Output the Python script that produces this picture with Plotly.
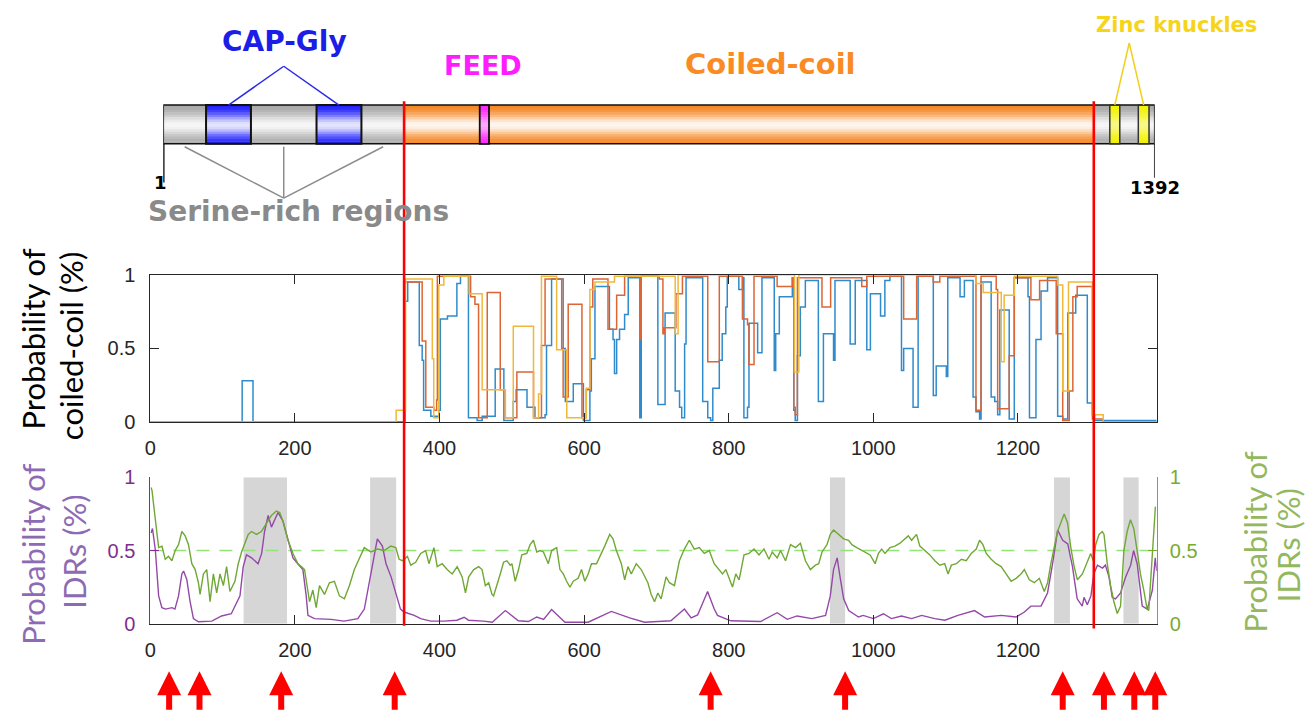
import numpy as np
import plotly.graph_objects as go

W, H = 1310, 721

# ------------------------------------------------------------------ data
PROTEIN_LENGTH = 1392
SERINE_RICH = [(1, 61), (124, 216), (279, 340)]
CAP_GLY = [(61, 124), (216, 279)]
COILED_COIL = (340, 1308)
FEED = (445, 458)
ZINC_KNUCKLES = [(1329, 1343), (1369, 1384)]

CC_BOUNDARIES = [351, 1305]          # red lines (plot coordinates)

X_TICKS = [0, 200, 400, 600, 800, 1000, 1200]
Y_TICKS = [0, 0.5, 1]
Y_TICK_TEXT = ["0", "0.5", "1"]

# coiled-coil probability, three window sizes (step functions: residue, value)
CC_BLUE = [(0, 0), (127, 0.28), (142, 0), (352, 0.82), (356, 0.95), (372, 0.52), (376, 0.42),
           (378, 0.08), (388, 0.04), (399, 0.08), (401, 0.70), (411, 0.72), (424, 0.94), (429, 0.99),
           (440, 0.03), (452, 0.01), (459, 0.04), (477, 0.36), (489, 0.01), (502, 0.14), (506, 0.22),
           (521, 0.10), (532, 0.03), (546, 0.05), (548, 0.52), (555, 0.97), (571, 0.50), (574, 0.14),
           (585, 0.26), (599, 0.01), (608, 0.21), (610, 0.43), (615, 0.92), (635, 0.63), (640, 0.56),
           (642, 0.33), (645, 0.56), (649, 0.63), (656, 0.73), (661, 0.98), (677, 0.03), (679, 0.99),
           (702, 0.12), (712, 0.74), (726, 0.21), (732, 0.10), (735, 0.03), (739, 0.53), (741, 0.98),
           (764, 0.14), (771, 0.03), (775, 0.01), (778, 0.23), (787, 0.42), (791, 0.60), (796, 0.78),
           (798, 0.99), (814, 0.90), (819, 0.98), (821, 0.03), (826, 0.10), (828, 0.67), (840, 0.47),
           (846, 0.98), (863, 0.35), (865, 0.60), (870, 0.85), (888, 0.98), (890, 0.08), (892, 0.01),
           (895, 0.45), (899, 0.78), (906, 0.96), (924, 0.14), (931, 0.60), (945, 0.42), (947, 0.96),
           (968, 0.53), (975, 0.96), (991, 0.49), (996, 0.87), (1010, 0.72), (1016, 0.96), (1023, 0.99),
           (1039, 0.35), (1042, 0.50), (1055, 0.10), (1062, 0.99), (1083, 0.18), (1087, 0.38),
           (1101, 0.31), (1103, 0.98), (1120, 0.85), (1126, 0.96), (1138, 0.17), (1142, 0.07),
           (1147, 0.02), (1149, 0.95), (1163, 0.17), (1168, 0.14), (1172, 0.05), (1175, 0.76),
           (1188, 0.02), (1195, 0.98), (1214, 0.85), (1216, 0.03), (1225, 0.56), (1232, 0.89),
           (1241, 0.98), (1255, 0.04), (1262, 0.02), (1269, 0.74), (1280, 0.86), (1296, 0.13),
           (1303, 0.05), (1306, 0.01), (1392, 0.01)]

CC_RED = [(0, 0), (352, 0.95), (376, 0.55), (381, 0.10), (392, 0.08), (396, 0.15), (397, 0.99),
          (443, 0.85), (449, 0.80), (454, 0.03), (466, 0.88), (484, 0.22), (491, 0.03), (507, 0.34),
          (530, 0.03), (541, 0.52), (546, 0.97), (569, 0.50), (571, 0.17), (578, 0.80), (597, 0.03),
          (603, 0.22), (608, 0.78), (612, 0.97), (633, 0.63), (645, 0.86), (656, 0.99), (677, 0.56),
          (679, 0.99), (704, 0.97), (709, 0.60), (711, 0.64), (727, 0.87), (736, 0.99), (771, 0.41),
          (787, 0.99), (819, 0.70), (826, 0.66), (828, 0.39), (835, 0.99), (867, 0.92), (888, 0.98),
          (890, 0.10), (892, 0.05), (895, 0.98), (929, 0.78), (941, 0.98), (984, 0.92), (991, 0.99),
          (1042, 0.70), (1060, 0.99), (1083, 0.95), (1092, 0.99), (1142, 0.08), (1149, 0.99),
          (1170, 0.90), (1172, 0.09), (1188, 0.45), (1195, 0.98), (1218, 0.83), (1230, 0.96),
          (1253, 0.60), (1262, 0.01), (1271, 0.21), (1276, 0.85), (1282, 0.92), (1303, 0.02),
          (1318, 0.0), (1392, 0.0)]

CC_YELLOW = [(0, 0), (340, 0.08), (353, 0.97), (390, 0.43), (392, 0.03), (399, 0.93), (406, 0.99),
             (441, 0.87), (459, 0.22), (491, 0.03), (502, 0.65), (530, 0.03), (537, 0.19), (541, 0.99),
             (562, 0.49), (576, 0.03), (603, 0.23), (608, 0.90), (615, 0.95), (642, 0.99), (726, 0.60),
             (730, 1.0), (891, 0.34), (897, 1.0), (1142, 0.94), (1152, 0.88), (1177, 0.41),
             (1181, 0.86), (1195, 0.99), (1255, 0.93), (1262, 0.21), (1270, 0.95), (1303, 0.05),
             (1318, 0.0), (1392, 0.0)]

# IDR probability (purple, left axis) and second predictor (green, right axis)
IDR_PURPLE = [(1, 0.62), (3, 0.65), (7, 0.50), (11.5, 0.19), (16, 0.11), (21, 0.10), (30, 0.11),
              (34, 0.10), (39, 0.19), (43.6, 0.34), (46, 0.36), (50.5, 0.30), (55, 0.15), (59.6, 0.035),
              (66.5, 0.013), (85, 0.018), (98.6, 0.053), (112, 0.068), (124, 0.19), (128.5, 0.39),
              (133, 0.47), (140, 0.45), (149, 0.41), (154, 0.48), (158, 0.63), (163, 0.74),
              (167.5, 0.66), (172, 0.71), (176.6, 0.76), (183.5, 0.70), (190.4, 0.57), (197.3, 0.45),
              (204, 0.41), (211, 0.37), (215.6, 0.19), (218, 0.057), (227, 0.035), (250, 0.03),
              (268, 0.018), (287, 0.035), (296, 0.10), (305, 0.34), (314, 0.58), (321, 0.53),
              (326, 0.41), (333, 0.32), (339.5, 0.21), (346, 0.10), (351, 0.08), (365, 0.057),
              (374, 0.035), (388, 0.018), (406, 0.018), (424, 0.024), (434, 0.044), (440, 0.024),
              (461, 0.018), (473, 0.01), (491, 0.09), (509, 0.02), (523, 0.015), (534.5, 0.046),
              (544, 0.03), (555, 0.097), (573.5, 0.01), (605.6, 0.01), (637.7, 0.084), (663, 0.04),
              (683.6, 0.01), (720, 0.02), (738.7, 0.10), (748, 0.04), (757, 0.06), (770.8, 0.22),
              (780, 0.10), (784.5, 0.057), (803, 0.02), (844, 0.015), (867, 0.075), (881, 0.03),
              (894.6, 0.053), (915, 0.035), (934, 0.057), (940.5, 0.19), (945, 0.37), (950, 0.45),
              (954, 0.32), (959, 0.17), (966, 0.09), (979.5, 0.046), (986, 0.057), (1000, 0.035),
              (1014, 0.068), (1025, 0.035), (1039, 0.053), (1053, 0.035), (1067, 0.057), (1085, 0.035),
              (1099, 0.024), (1117, 0.057), (1140, 0.09), (1154, 0.046), (1177, 0.057), (1197.5, 0.046),
              (1209, 0.08), (1218, 0.12), (1232, 0.12), (1241, 0.21), (1248, 0.41), (1255, 0.64),
              (1262, 0.57), (1269, 0.545), (1275.5, 0.39), (1282, 0.17), (1289, 0.12), (1291.5, 0.18),
              (1296, 0.13), (1301, 0.19), (1305, 0.34), (1310, 0.40), (1317, 0.38), (1321, 0.40),
              (1326, 0.32), (1330.5, 0.18), (1335, 0.17), (1342, 0.21), (1349, 0.32), (1356, 0.40),
              (1360, 0.50), (1365, 0.41), (1372, 0.12), (1379, 0.10), (1386, 0.23), (1390, 0.45),
              (1392, 0.36)]

IDR_GREEN = [(1, 0.93), (2.3, 0.91), (4.6, 0.81), (9.2, 0.63), (11.5, 0.52), (16.1, 0.53), (20.6, 0.44),
             (25.2, 0.46), (29.8, 0.43), (34.4, 0.50), (39, 0.54), (43.6, 0.63), (48.2, 0.60),
             (52.8, 0.54), (57.4, 0.41), (62, 0.37), (66.5, 0.28), (68.8, 0.20), (73.4, 0.34),
             (78, 0.37), (82.6, 0.15), (87.2, 0.34), (91.8, 0.21), (96.4, 0.34), (101, 0.26),
             (105.5, 0.39), (110.1, 0.22), (117, 0.29), (121.6, 0.41), (126.2, 0.49), (130.8, 0.55),
             (135.4, 0.61), (140, 0.63), (146.8, 0.61), (153.7, 0.63), (160.6, 0.69), (167.5, 0.74),
             (174.3, 0.77), (178.9, 0.76), (183.5, 0.70), (190.4, 0.57), (197.3, 0.48), (204.2, 0.41),
             (208.8, 0.39), (213.3, 0.37), (220.2, 0.15), (224.8, 0.23), (229.4, 0.11), (234, 0.26),
             (240.9, 0.20), (247.7, 0.28), (254.6, 0.29), (261.5, 0.19), (268.4, 0.17), (275.3, 0.26),
             (282.2, 0.37), (289, 0.45), (295.9, 0.52), (305.1, 0.49), (314.3, 0.51), (323.5, 0.50),
             (332.6, 0.53), (339.5, 0.52), (344.1, 0.44), (348.7, 0.43), (355.6, 0.46), (360.2, 0.40),
             (367, 0.42), (373.9, 0.48), (380.8, 0.50), (385.4, 0.41), (392.3, 0.52), (396.8, 0.39),
             (403.7, 0.41), (410.6, 0.37), (417.5, 0.34), (424.4, 0.39), (431.3, 0.32), (435.9, 0.21),
             (440.4, 0.32), (447.3, 0.37), (454.2, 0.39), (458.8, 0.37), (463.4, 0.26), (468, 0.28),
             (472.6, 0.20), (474.8, 0.19), (479.4, 0.26), (484, 0.34), (488.6, 0.42), (493.2, 0.43),
             (497.8, 0.40), (500.1, 0.41), (504.7, 0.29), (509.3, 0.37), (513.8, 0.47), (520.7, 0.48),
             (525.3, 0.54), (529.9, 0.57), (534.5, 0.49), (539.1, 0.50), (543.7, 0.49), (550.5, 0.41),
             (555.1, 0.50), (562, 0.52), (566.6, 0.37), (571.2, 0.34), (575.8, 0.29), (580.4, 0.25),
             (585, 0.29), (591.8, 0.31), (596.4, 0.37), (601, 0.29), (605.6, 0.34), (610.2, 0.41),
             (617.1, 0.41), (624, 0.48), (628.5, 0.53), (635.4, 0.61), (640, 0.58), (644.6, 0.50),
             (651.5, 0.41), (656.1, 0.30), (660.7, 0.39), (665.2, 0.34), (672.1, 0.41), (679, 0.37),
             (683.6, 0.32), (688.2, 0.28), (692.8, 0.20), (697.4, 0.15), (702, 0.21), (706.5, 0.17),
             (713.4, 0.32), (718, 0.28), (724.9, 0.26), (731.8, 0.43), (738.7, 0.51), (745.5, 0.57),
             (752.4, 0.51), (759.3, 0.52), (766.2, 0.48), (773.1, 0.50), (779.9, 0.41), (784.5, 0.38),
             (791.4, 0.34), (796, 0.37), (805.2, 0.25), (809.8, 0.34), (814.4, 0.30), (821.2, 0.47),
             (828.1, 0.48), (835, 0.51), (841.9, 0.47), (848.8, 0.51), (855.7, 0.44), (860.2, 0.49),
             (867.1, 0.45), (871.7, 0.50), (878.6, 0.43), (885.5, 0.54), (892.4, 0.52), (899.2, 0.55),
             (906.1, 0.43), (913, 0.37), (919.9, 0.40), (924.5, 0.41), (929.1, 0.49), (935.9, 0.54),
             (940.5, 0.61), (945.1, 0.64), (949.7, 0.62), (954.3, 0.60), (958.9, 0.58), (965.8, 0.57),
             (970.4, 0.54), (977.2, 0.52), (984.1, 0.50), (988.7, 0.49), (995.6, 0.47), (1002.5, 0.41),
             (1007.1, 0.48), (1011.6, 0.51), (1016.2, 0.48), (1023.1, 0.52), (1030, 0.53),
             (1036.9, 0.55), (1043.8, 0.58), (1048.4, 0.60), (1053, 0.57), (1059.8, 0.61),
             (1064.4, 0.53), (1071.3, 0.50), (1078.2, 0.47), (1085.1, 0.43), (1092, 0.40),
             (1098.8, 0.41), (1103.4, 0.34), (1108, 0.40), (1114.9, 0.41), (1121.8, 0.44),
             (1128.6, 0.43), (1135.5, 0.48), (1142.4, 0.51), (1147, 0.57), (1151.6, 0.54),
             (1156.2, 0.48), (1163.1, 0.44), (1169.9, 0.41), (1176.8, 0.39), (1183.7, 0.34),
             (1190.6, 0.29), (1197.5, 0.31), (1204.3, 0.34), (1208.9, 0.37), (1215.8, 0.30),
             (1222.7, 0.28), (1229.6, 0.31), (1236.5, 0.22), (1241.1, 0.28), (1245.6, 0.41),
             (1250.2, 0.52), (1254.8, 0.63), (1259.4, 0.69), (1264, 0.75), (1268.6, 0.69),
             (1273.2, 0.52), (1277.8, 0.39), (1282.3, 0.30), (1289.2, 0.34), (1296.1, 0.43),
             (1300.7, 0.48), (1304.4, 0.43), (1307.6, 0.54), (1312.2, 0.61), (1316.8, 0.63),
             (1319.1, 0.61), (1323.6, 0.41), (1328.2, 0.26), (1332.8, 0.15), (1337.4, 0.07),
             (1342, 0.12), (1346.6, 0.50), (1351.2, 0.63), (1355.7, 0.71), (1360.3, 0.65),
             (1364.9, 0.50), (1369.5, 0.34), (1374.1, 0.23), (1378.7, 0.10), (1381, 0.09),
             (1385.6, 0.48), (1390.2, 0.80)]

IDR_THRESHOLD = 0.5
IDR_REGIONS = [(129, 189), (304, 340), (940, 961), (1250, 1272), (1346, 1367)]
ARROW_SITES = [26, 68, 181, 338, 775, 961, 1262, 1319, 1361, 1390]

# ------------------------------------------------------------------ layout helpers
def py(px):
    return 1 - px / H


def px_x(px):
    return px / W


PLOT_X = [px_x(145), px_x(1156)]
MID_Y = [py(424), py(272)]
BOT_Y = [py(632), py(481)]
BAR_TOP, BAR_BOT = py(97), py(137)


def shade(hexcol, t):
    r, g, b = int(hexcol[1:3], 16), int(hexcol[3:5], 16), int(hexcol[5:7], 16)
    r = r + (255 - r) * t
    g = g + (255 - g) * t
    b = b + (255 - b) * t
    return f"rgb({r:.0f},{g:.0f},{b:.0f})"


shapes = []
NB = 16


def gradient_rect(x0, x1, base, peak=0.9):
    for i in range(NB):
        t = (i + 0.5) / NB
        f = peak * np.exp(-((t - 0.52) / 0.28) ** 2)
        ya = BAR_TOP - (BAR_TOP - BAR_BOT) * i / NB
        yb = BAR_TOP - (BAR_TOP - BAR_BOT) * (i + 1) / NB - 0.0006
        shapes.append(dict(type="rect", xref="x3", yref="paper", x0=x0, x1=x1, y0=max(yb, BAR_BOT),
                           y1=ya, fillcolor=shade(base, f), line=dict(width=0), layer="above"))


def box(x0, x1, color="black", width=2):
    shapes.append(dict(type="rect", xref="x3", yref="paper", x0=x0, x1=x1, y0=BAR_BOT, y1=BAR_TOP,
                       fillcolor="rgba(0,0,0,0)", line=dict(color=color, width=width), layer="above"))


def seg(xref, x0, y0, x1, y1, color, width):
    shapes.append(dict(type="line", xref=xref, yref="paper", x0=x0, y0=y0, x1=x1, y1=y1,
                       line=dict(color=color, width=width), layer="above"))


# ---- protein domain diagram
GRAY, BLUE, ORANGE, MAGENTA, YELLOW = "#a6a6a6", "#1a1aff", "#f5821a", "#ff20ff", "#f2f200"
gradient_rect(1, PROTEIN_LENGTH, GRAY)
gradient_rect(COILED_COIL[0], COILED_COIL[1], ORANGE, 0.92)
for a, b in CAP_GLY:
    gradient_rect(a, b, BLUE, 0.88)
gradient_rect(FEED[0], FEED[1], MAGENTA, 0.6)
for a, b in ZINC_KNUCKLES:
    gradient_rect(a, b, YELLOW, 0.5)
box(1, PROTEIN_LENGTH, "#111111", 1.6)
for a, b in CAP_GLY:
    box(a, b, "#111111", 2)
box(FEED[0], FEED[1], "#111111", 1.8)
for a, b in ZINC_KNUCKLES:
    box(a, b, "#333333", 1.5)

# end ticks of the sequence
seg("x3", 1, BAR_BOT, 1, py(177), "black", 2.5)
seg("x3", PROTEIN_LENGTH, BAR_BOT, PROTEIN_LENGTH, py(172), "black", 1.5)

# callout lines
cap_centers = [(a + b) / 2 for a, b in CAP_GLY]
cap_apex = sum(cap_centers) / len(cap_centers)
for c in cap_centers:
    seg("x3", cap_apex, py(57), c, BAR_TOP, "#2a2ae8", 1.5)
zn_centers = [(a + b) / 2 for a, b in ZINC_KNUCKLES]
zn_apex = sum(zn_centers) / len(zn_centers)
for c in zn_centers:
    seg("x3", zn_apex, py(33), c, BAR_TOP, "#f0cf20", 1.5)
ser_centers = [(a + b) / 2 for a, b in SERINE_RICH]
ser_apex = ser_centers[1]
for c in ser_centers:
    seg("x3", ser_apex, py(193), c, py(140), "#8c8c8c", 1.5)

# ---- IDR regions (gray bands)
for a, b in IDR_REGIONS:
    shapes.append(dict(type="rect", xref="x2", yref="y2", x0=a, x1=b, y0=0, y1=1,
                       fillcolor="#d6d6d6", line=dict(width=0), layer="below"))

# ---- red boundary lines
seg("x", CC_BOUNDARIES[0], py(93), CC_BOUNDARIES[0], py(634), "#ff0000", 2.6)
seg("x", CC_BOUNDARIES[1], py(93), CC_BOUNDARIES[1], py(637), "#ff0000", 2.6)

# ------------------------------------------------------------------ traces
fig = go.Figure()


def unzip(pairs):
    return [p[0] for p in pairs], [p[1] for p in pairs]


for pairs, col in [(CC_BLUE, "#2f8bcc"), (CC_RED, "#dc6535"), (CC_YELLOW, "#efb83a")]:
    xs, ys = unzip(pairs)
    fig.add_trace(go.Scatter(x=xs, y=ys, mode="lines", xaxis="x", yaxis="y",
                             line=dict(color=col, width=1.5, shape="hv"), showlegend=False,
                             hoverinfo="skip"))

fig.add_trace(go.Scatter(x=[0, PROTEIN_LENGTH], y=[IDR_THRESHOLD, IDR_THRESHOLD], mode="lines",
                         xaxis="x2", yaxis="y2", line=dict(color="#94e47a", width=1.5, dash="13px,10px"),
                         showlegend=False, hoverinfo="skip"))
xs, ys = unzip(IDR_GREEN)
fig.add_trace(go.Scatter(x=xs, y=ys, mode="lines", xaxis="x2", yaxis="y3",
                         line=dict(color="#6fa834", width=1.4), showlegend=False, hoverinfo="skip"))
xs, ys = unzip(IDR_PURPLE)
fig.add_trace(go.Scatter(x=xs, y=ys, mode="lines", xaxis="x2", yaxis="y2",
                         line=dict(color="#9448a8", width=1.4), showlegend=False, hoverinfo="skip"))

# ------------------------------------------------------------------ annotations
annotations = []


def text(x, y, s, size, color, family="DejaVu Sans", angle=0, bold=True, xref="paper"):
    annotations.append(dict(x=x, y=y, xref=xref, yref="paper", text=f"<b>{s}</b>" if bold else s,
                            showarrow=False, xanchor="center", yanchor="middle", textangle=angle,
                            font=dict(family=family, size=size, color=color)))


text(px_x(280), py(31), "CAP-Gly", 28, "#1d1de8")
text(px_x(479), py(56), "FEED", 27, "#ff1cff")
text(px_x(768), py(55), "Coiled-coil", 29, "#f98a24")
text(px_x(1176), py(14), "Zinc knuckles", 21, "#f6d41a")
text(px_x(294), py(207), "Serine-rich regions", 28, "#8a8a8a")
text(px_x(155), py(177), "1", 18, "black")
text(px_x(1154), py(182), "1392", 18, "black")

TITLE_FONT = "Lato"
text(px_x(27), py(338), "Probability of", 31, "black", TITLE_FONT, -90, False)
text(px_x(66), py(346), "coiled-coil (%)", 31, "black", TITLE_FONT, -90, False)
text(px_x(27), py(560), "Probability of", 31, "#8d6bb4", TITLE_FONT, -90, False)
text(px_x(68), py(558), "IDRs (%)", 31, "#8d6bb4", TITLE_FONT, -90, False)
text(px_x(1255), py(548), "Probability of", 31, "#93b85e", TITLE_FONT, -90, False)
text(px_x(1288), py(551), "IDRs (%)", 31, "#93b85e", TITLE_FONT, -90, False)

# red arrows under the lower panel, pointing up at the residues
for site in ARROW_SITES:
    annotations.append(dict(x=site, y=py(681), xref="x2", yref="paper", text="", showarrow=True,
                            ax=0, ay=40, axref="pixel", ayref="pixel", arrowhead=2, arrowsize=0.8,
                            arrowwidth=6, arrowcolor="#ff0000", standoff=0))

# ------------------------------------------------------------------ axes
tick_font = dict(family="Liberation Sans, Arial, sans-serif", size=20, color="#262626")
DARK = "#262626"
PURPLE_AX = "#7e2f8e"
GREEN_AX = "#77ac30"

common_x = dict(domain=PLOT_X, range=[0, PROTEIN_LENGTH], tickvals=X_TICKS, ticks="inside", ticklen=9,
                tickwidth=1, tickcolor=DARK, showline=True, linecolor=DARK, linewidth=1, showgrid=False,
                zeroline=False, tickfont=tick_font, ticklabelstandoff=8)
common_y = dict(range=[0, 1], tickvals=Y_TICKS, ticktext=Y_TICK_TEXT, ticks="inside", ticklen=9,
                tickwidth=1, showline=True, linewidth=1, showgrid=False, zeroline=False)

fig.update_layout(
    width=W, height=H, autosize=False,
    margin=dict(l=0, r=0, t=0, b=0),
    paper_bgcolor="white", plot_bgcolor="rgba(0,0,0,0)",
    showlegend=False, hovermode=False,
    xaxis=dict(common_x, anchor="y", mirror="ticks"),
    yaxis=dict(common_y, domain=MID_Y, anchor="x", mirror="ticks", linecolor=DARK, tickcolor=DARK,
               tickfont=tick_font, ticklabelstandoff=10),
    xaxis2=dict(common_x, anchor="y2"),
    yaxis2=dict(common_y, domain=BOT_Y, anchor="x2", linecolor=PURPLE_AX, tickcolor=PURPLE_AX,
                tickfont=dict(tick_font, color=PURPLE_AX), ticklabelstandoff=10),
    yaxis3=dict(common_y, overlaying="y2", side="right", anchor="x2", linecolor=GREEN_AX,
                tickcolor=GREEN_AX, tickfont=dict(tick_font, color=GREEN_AX), ticklabelstandoff=8),
    xaxis3=dict(domain=[px_x(158), px_x(1154)], range=[1, PROTEIN_LENGTH], visible=False, anchor="y4"),
    yaxis4=dict(domain=[BAR_BOT, BAR_TOP], range=[0, 1], visible=False, anchor="x3"),
    shapes=shapes,
    annotations=annotations,
)

fig.write_html("out.html", config={"displayModeBar": False, "staticPlot": True},
               post_script="document.body.style.margin='0';document.body.style.overflow='hidden';")
